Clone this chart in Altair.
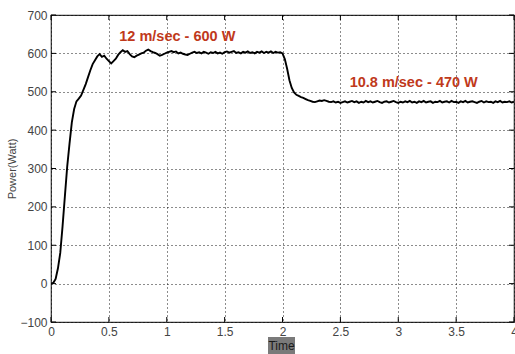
import altair as alt
import pandas as pd

# ---- data ----
time_s = [
    0.00, 0.02, 0.04, 0.06, 0.08, 0.10, 0.12, 0.14, 0.16, 0.18,
    0.20, 0.22, 0.24, 0.26, 0.28, 0.30, 0.32, 0.34, 0.36, 0.38,
    0.40, 0.42, 0.44, 0.46, 0.48, 0.50, 0.52, 0.54, 0.56, 0.58,
    0.60, 0.62, 0.64, 0.66, 0.68, 0.70, 0.72, 0.74, 0.76, 0.78,
    0.80, 0.82, 0.84, 0.86, 0.88, 0.90, 0.92, 0.94, 0.96, 0.98,
    1.00, 1.02, 1.04, 1.06, 1.08, 1.10, 1.12, 1.14, 1.16, 1.18,
    1.20, 1.22, 1.24, 1.26, 1.28, 1.30, 1.32, 1.34, 1.36, 1.38,
    1.40, 1.42, 1.44, 1.46, 1.48, 1.50, 1.52, 1.54, 1.56, 1.58,
    1.60, 1.62, 1.64, 1.66, 1.68, 1.70, 1.72, 1.74, 1.76, 1.78,
    1.80, 1.82, 1.84, 1.86, 1.88, 1.90, 1.92, 1.94, 1.96, 1.98,
    2.00, 2.02, 2.04, 2.06, 2.08, 2.10, 2.12, 2.14, 2.16, 2.18,
    2.20, 2.22, 2.24, 2.26, 2.28, 2.30, 2.32, 2.34, 2.36, 2.38,
    2.40, 2.42, 2.44, 2.46, 2.48, 2.50, 2.52, 2.54, 2.56, 2.58,
    2.60, 2.62, 2.64, 2.66, 2.68, 2.70, 2.72, 2.74, 2.76, 2.78,
    2.80, 2.82, 2.84, 2.86, 2.88, 2.90, 2.92, 2.94, 2.96, 2.98,
    3.00, 3.02, 3.04, 3.06, 3.08, 3.10, 3.12, 3.14, 3.16, 3.18,
    3.20, 3.22, 3.24, 3.26, 3.28, 3.30, 3.32, 3.34, 3.36, 3.38,
    3.40, 3.42, 3.44, 3.46, 3.48, 3.50, 3.52, 3.54, 3.56, 3.58,
    3.60, 3.62, 3.64, 3.66, 3.68, 3.70, 3.72, 3.74, 3.76, 3.78,
    3.80, 3.82, 3.84, 3.86, 3.88, 3.90, 3.92, 3.94, 3.96, 3.98,
    4.00,
]
power_w = [
    0, 2, 12, 40, 80, 150, 228, 305, 365, 420,
    455, 475, 482, 490, 505, 520, 538, 556, 572, 582,
    592, 598, 591, 594, 586, 580, 574, 580, 586, 596,
    603, 608, 604, 606, 598, 592, 590, 594, 597, 600,
    602, 607, 610, 606, 603, 601, 598, 594, 596, 599,
    602, 604, 606, 603, 605, 600, 602, 599, 597, 596,
    599, 602, 604, 601, 603, 600, 604, 602, 599, 603,
    601, 604, 600, 602, 599, 603, 605, 602, 604, 606,
    601, 603, 600, 604, 602, 605, 601, 603, 600, 604,
    602, 605, 601, 604, 602, 605, 601, 604, 602, 603,
    600, 585, 560, 530, 510, 498, 492, 489, 486, 484,
    481, 478, 476, 474, 473, 475, 477, 476, 478, 476,
    474, 473, 475, 472, 474, 471, 473, 475, 472, 474,
    476, 473, 475, 471, 474, 472, 476, 473, 475, 472,
    474, 476, 473, 471, 474, 475, 472, 474, 476, 473,
    471, 474, 472, 475, 473, 476, 472, 474, 471, 475,
    473, 476, 472, 474, 475, 471, 474, 473, 476, 472,
    474, 475, 472, 476, 473, 474, 471, 475, 473, 476,
    472, 474, 475, 473, 471, 474, 476, 472, 475, 473,
    474, 471, 475, 473, 476, 472, 474, 473, 475, 472,
    474,
]

x_ticks = [0, 0.5, 1, 1.5, 2, 2.5, 3, 3.5, 4]
y_ticks = [-100, 0, 100, 200, 300, 400, 500, 600, 700]

ann_text = ["12 m/sec - 600 W", "10.8 m/sec - 470 W"]
ann_t = [0.59, 2.58]
ann_p = [642, 522]

FONT = "Liberation Sans"
W, H = 463, 307

df = pd.DataFrame({"t": time_s, "p": power_w})
ann = pd.DataFrame({"t": ann_t, "p": ann_p, "label": ann_text})
xt = pd.DataFrame({"t": x_ticks})
yt = pd.DataFrame({"p": y_ticks})

xs = alt.Scale(domain=[0, 4], nice=False, zero=False)
ys = alt.Scale(domain=[-100, 700], nice=False, zero=False)

xaxis = alt.Axis(values=x_ticks, title=None, grid=True, gridColor="black",
                 gridDash=[1, 3], gridOpacity=0.9, ticks=False, domain=False,
                 labelFont=FONT, labelFontSize=12, labelColor="#444",
                 labelPadding=4, labelFlush=False, labelOverlap=False,
                 format="~g")
yaxis = alt.Axis(values=y_ticks, title="Power(Watt)", grid=True, gridColor="black",
                 gridDash=[1, 3], gridOpacity=0.9, ticks=False, domain=False,
                 labelFont=FONT, labelFontSize=12, labelColor="#444",
                 labelPadding=4, labelOverlap=False, labelFlush=False,
                 titleFont=FONT, titleFontSize=11,
                 titleFontWeight="normal", titleColor="#444", titlePadding=2)

X = alt.X("t:Q", scale=xs, axis=xaxis)
Y = alt.Y("p:Q", scale=ys, axis=yaxis)

line = alt.Chart(df).mark_line(color="black", strokeWidth=1.9, clip=True).encode(x=X, y=Y)

# inward tick marks (MATLAB style), bottom/top and left/right
tick_b = alt.Chart(xt).mark_rule(color="black", strokeWidth=1).encode(
    x=X, y=alt.value(H), y2=alt.value(H - 5))
tick_t = alt.Chart(xt).mark_rule(color="black", strokeWidth=1).encode(
    x=X, y=alt.value(0), y2=alt.value(5))
tick_l = alt.Chart(yt).mark_rule(color="black", strokeWidth=1).encode(
    y=Y, x=alt.value(0), x2=alt.value(5))
tick_r = alt.Chart(yt).mark_rule(color="black", strokeWidth=1).encode(
    y=Y, x=alt.value(W), x2=alt.value(W - 5))

labels = alt.Chart(ann).mark_text(color="#c0391b", font=FONT, fontSize=14.5,
                                  fontWeight="bold", align="left", baseline="middle").encode(
    x=X, y=Y, text="label:N")

box_df = pd.DataFrame({"label": ["Time"]})
xbox = alt.Chart(box_df).mark_rect(color="#7a7a7a").encode(
    x=alt.value(217), x2=alt.value(244), y=alt.value(322), y2=alt.value(339))
xtitle = alt.Chart(box_df).mark_text(font=FONT, fontSize=12, color="#1a1a1a",
                                     align="center", baseline="middle").encode(
    x=alt.value(230.5), y=alt.value(331), text="label:N")

chart = alt.layer(line, tick_b, tick_t, tick_l, tick_r, labels, xbox, xtitle).properties(
    width=W, height=H,
    padding={"left": 51, "top": 15, "right": 1, "bottom": 32},
    autosize=alt.AutoSizeParams(type="none"),
    background="white",
).configure_view(stroke="#333", strokeWidth=1.2)

chart.save("out.html", embed_options={"renderer": "svg", "actions": False})
